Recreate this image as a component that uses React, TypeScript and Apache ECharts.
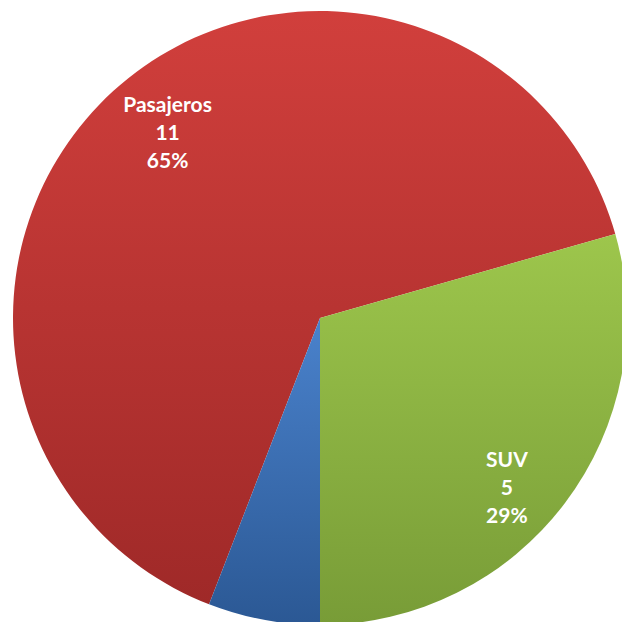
import React, { useEffect, useRef } from "react";
import * as echarts from "echarts";

const categories = ["Pasajeros", "SUV", "Otros"];
const values = [11, 5, 1];
const percentLabels = ["65%", "29%", "6%"];
const showLabel = [true, true, false];
const topColors = ["#d13f3c", "#9dc64c", "#4a82cc"];
const bottomColors = ["#9f2928", "#789c37", "#2b5894"];
const labelShift: [number, number][] = [
  [-47, -71],
  [62, 74],
  [0, 0],
];

export default function App() {
  const ref = useRef<HTMLDivElement>(null);
  useEffect(() => {
    if (!ref.current) return;
    const chart = echarts.init(ref.current, null, { renderer: "svg" });
    const data = categories.map((name, i) => ({
      name,
      value: values[i],
      itemStyle: {
        color: new echarts.graphic.LinearGradient(0, 0, 0, 1, [
          { offset: 0, color: topColors[i] },
          { offset: 1, color: bottomColors[i] },
        ]),
      },
      label: { show: showLabel[i] },
    }));
    chart.setOption({
      animation: false,
      backgroundColor: "#ffffff",
      series: [
        {
          type: "pie",
          center: [320, 318],
          radius: [0, 307],
          startAngle: 248.82,
          clockwise: true,
          avoidLabelOverlap: false,
          silent: true,
          data,
          itemStyle: { borderWidth: 0 },
          label: {
            position: "inside",
            color: "#ffffff",
            fontFamily: "Lato",
            fontWeight: "bold",
            fontSize: 21,
            lineHeight: 28,
            align: "center",
            formatter: (p: any) =>
              `${p.name}\n${p.value}\n${percentLabels[p.dataIndex]}`,
          },
          labelLine: { show: false },
          labelLayout: (p: any) => ({
            dx: labelShift[p.dataIndex][0],
            dy: labelShift[p.dataIndex][1],
          }),
        },
      ],
    });
    return () => chart.dispose();
  }, []);
  return (
    <div
      ref={ref}
      style={{
        position: "fixed",
        left: 0,
        top: 0,
        width: 622,
        height: 622,
        overflow: "hidden",
      }}
    />
  );
}
